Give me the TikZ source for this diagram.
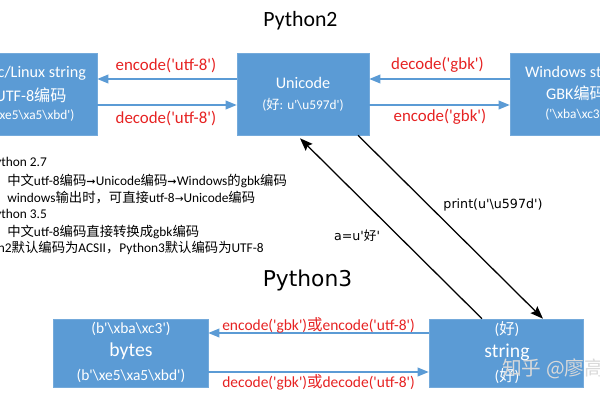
\documentclass[tikz,border=0pt]{standalone}
\usepackage{fontspec}
\setmainfont{Carlito}
\newfontfamily\cjk{Noto Sans CJK SC}
\newfontfamily\dv{DejaVu Sans}
\usetikzlibrary{arrows.meta,calc}
\definecolor{boxblue}{HTML}{5B9BD5}
\definecolor{lblred}{HTML}{E62222}
\newcommand\fsz[1]{\fontsize{#1}{#1}\selectfont}
\newcommand\sq{\textquotesingle}
\newcommand\bs{\textbackslash}
\begin{document}
\begin{tikzpicture}[x=0.25mm,y=-0.25mm,
  bbox/.style={draw=boxblue!85!white,fill=boxblue,line width=0.4pt,inner sep=0pt},
  wt/.style={text=white,inner sep=0pt},
  rlbl/.style={text=lblred,inner sep=0pt,font=\fsz{12}},
  rlbls/.style={text=lblred,inner sep=0pt,font=\fsz{11}},
  note/.style={text=black,inner sep=0pt,anchor=west,font=\fsz{9.5}},
  blbl/.style={text=black,inner sep=0pt,font=\dv\fsz{9}},
  barrow/.style={draw=boxblue,line width=1.1pt,-{Triangle[length=2.8mm,width=2.2mm]}},
  karrow/.style={draw=black,line width=0.9pt,-{Stealth[length=3.2mm,width=2.4mm,inset=0.5mm]}}]
\useasboundingbox (0,0) rectangle (600,400);
\clip (0,0) rectangle (600,400);

% titles
\node[inner sep=0pt,font=\fsz{15.5}] (t2) at (300.5,21) {Python2};
\node[inner sep=0pt,font=\dv\fsz{15.5}] (t3) at (307.5,280) {Python3};

% boxes
\node[bbox,minimum width=33mm,minimum height=20.5mm] (lft) at (31,94) {};
\node[bbox,minimum width=33mm,minimum height=20.5mm] (uni) at (303,94) {};
\node[bbox,minimum width=33mm,minimum height=20.5mm] (win) at (576,94) {};
\node[bbox,minimum width=38.75mm,minimum height=17mm] (byt) at (130.5,353) {};
\node[bbox,minimum width=38.5mm,minimum height=17mm] (str) at (506,353) {};

% box texts
\node[wt,font=\fsz{11.5}] (l1) at (31,73) {Mac/Linux string};
\node[wt,font=\fsz{11.5}] (l2) at (31,95) {UTF-8{\cjk 编码}};
\node[wt,font=\fsz{9.5}] (l3) at (31,116) {(\sq\bs xe5\bs xa5\bs xbd\sq)};

\node[wt,font=\fsz{11.5}] (u1) at (303,83) {Unicode};
\node[wt,font=\fsz{9.5}] (u2) at (303,105) {({\cjk 好}: u\sq\bs u597d\sq)};

\node[wt,font=\fsz{11.5}] (w1) at (576,73) {Windows string};
\node[wt,font=\fsz{11.5}] (w2) at (576,93) {GBK{\cjk 编码}};
\node[wt,font=\fsz{9.5}] (w3) at (576,115) {(\sq\bs xba\bs xc3\sq)};

\node[wt,font=\fsz{11}] (b1) at (131,329) {(b\sq\bs xba\bs xc3\sq)};
\node[wt,font=\fsz{14}] (b2) at (131,351) {bytes};
\node[wt,font=\fsz{11}] (b3) at (131,376) {(b\sq\bs xe5\bs xa5\bs xbd\sq)};

\node[wt,font=\fsz{11}] (s1) at (507,329) {({\cjk 好})};
\node[wt,font=\fsz{14}] (s2) at (507,352) {string};
\node[wt,font=\fsz{11}] (s3) at (507,376) {({\cjk 好})};

% horizontal arrows
\draw[barrow] ($(uni.west)+(0,-15)$) -- ($(lft.east)+(0,-15)$);
\draw[barrow] ($(lft.east)+(0,11)$) -- ($(uni.west)+(0,11)$);
\draw[barrow] ($(win.west)+(0,-15)$) -- ($(uni.east)+(0,-15)$);
\draw[barrow] ($(uni.east)+(0,11)$) -- ($(win.west)+(0,11)$);
\draw[barrow] ($(str.west)+(0,-20)$) -- ($(byt.east)+(0,-20)$);
\draw[barrow] ($(byt.east)+(0,19)$) -- ($(str.west)+(0,19)$);

% red labels
\node[rlbl] (r1) at (166,65) {encode(\sq utf-8\sq)};
\node[rlbl] (r2) at (166,118) {decode(\sq utf-8\sq)};
\node[rlbl] (r3) at (437.5,65) {decode(\sq gbk\sq)};
\node[rlbl] (r4) at (440,117) {encode(\sq gbk\sq)};
\node[rlbls] (r5) at (318.5,325) {encode(\sq gbk\sq){\cjk 或}encode(\sq utf-8\sq)};
\node[rlbls] (r6) at (318.5,382) {decode(\sq gbk\sq){\cjk 或}decode(\sq utf-8\sq)};

% diagonal arrows
\draw[karrow] ($(str.north)+(-24,0)$) -- ($(uni.south)+(-3,3)$);
\draw[karrow] ($(uni.south)+(55,0)$) -- ($(str.north)+(37,0)$);
\node[blbl] (d1) at (357,236) {a=u\sq{\cjk 好}\sq};
\node[blbl] (d2) at (493,205) {print(u\sq\bs u597d\sq)};

% notes
\node[note] (n1) at (-12,163) {Python 2.7};
\node[note] (n2) at (7,181) {{\cjk 中文}utf-8{\cjk 编码}{\dv\fsz{8}➞}Unicode{\cjk 编码}{\dv\fsz{8}➞}Windows{\cjk 的}gbk{\cjk 编码}};
\node[note] (n3) at (7,198) {windows{\cjk 输出时，可直接}utf-8{\dv\fsz{7.5}→}Unicode{\cjk 编码}};
\node[note] (n4) at (-12,215) {Python 3.5};
\node[note] (n5) at (7,232) {{\cjk 中文}utf-8{\cjk 编码直接转换成}gbk{\cjk 编码}};
\node[note] (n6) at (-34,248) {Python2{\cjk 默认编码为}ACSII{\cjk ，}Python3{\cjk 默认编码为}UTF-8};

% watermark
\node[inner sep=0pt,anchor=west,text=white!85!black,font=\cjk\fsz{14}] (wm) at (502,369) {知乎 @廖高};
\end{tikzpicture}
\end{document}
